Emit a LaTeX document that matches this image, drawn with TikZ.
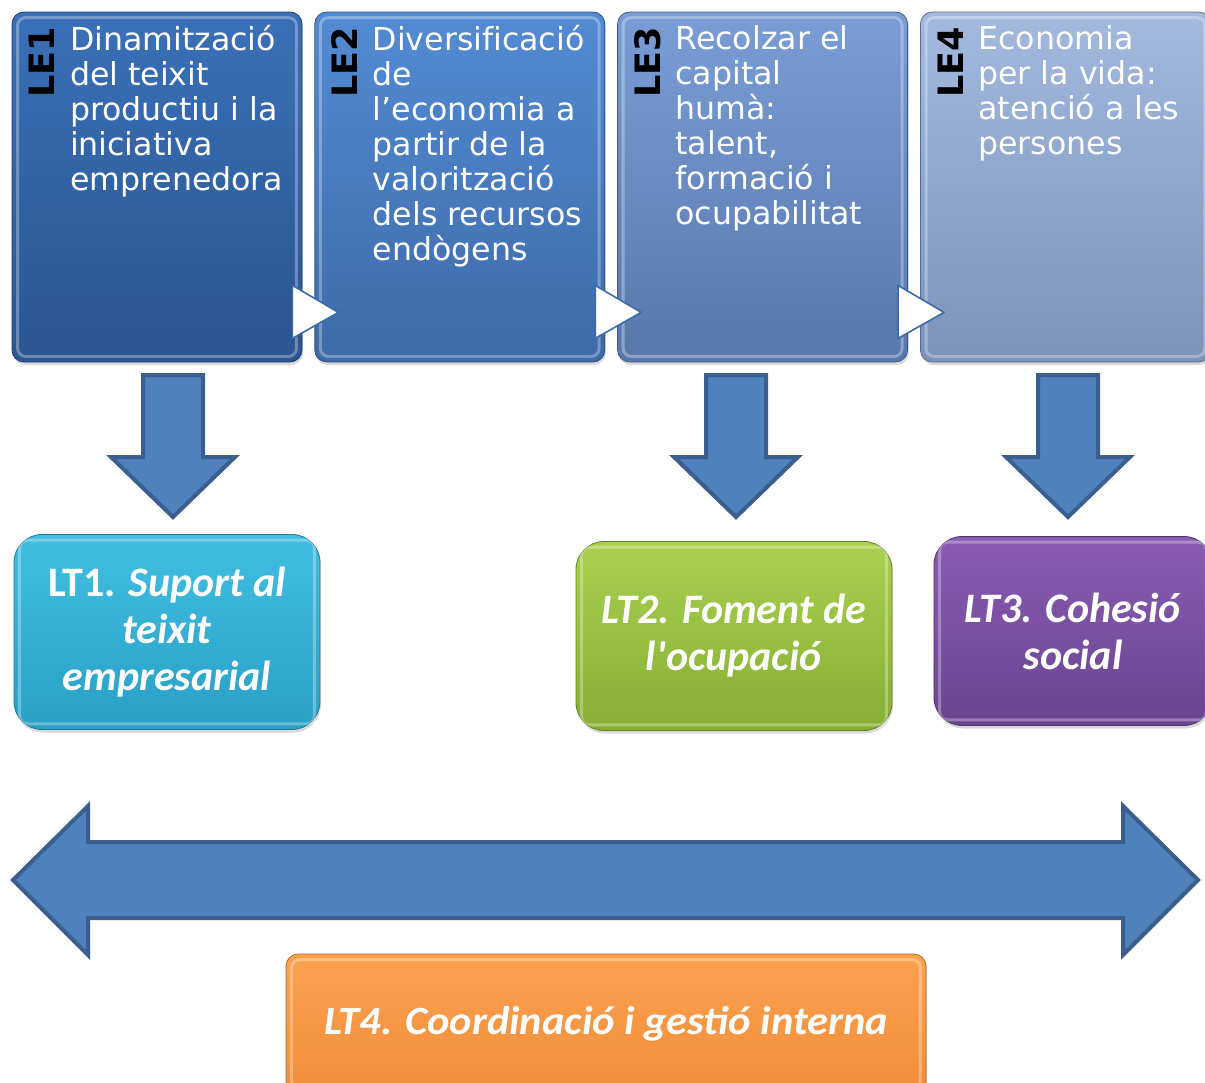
\documentclass[tikz,border=0pt]{standalone}
\usepackage{fontspec}
\usepackage{graphicx}
\newfontfamily\verd[Ligatures=NoCommon]{DejaVu Sans}
\newfontfamily\cali{Carlito}
\usepackage{tikz}
\usetikzlibrary{calc,positioning,shadows}

\definecolor{le1top}{HTML}{3A70B8}\definecolor{le1bot}{HTML}{2A5590}
\definecolor{le2top}{HTML}{538BD4}\definecolor{le2bot}{HTML}{3D6AA8}
\definecolor{le3top}{HTML}{7A9DD6}\definecolor{le3bot}{HTML}{5878AB}
\definecolor{le4top}{HTML}{A3B9DE}\definecolor{le4bot}{HTML}{7B92BA}
\definecolor{lt1top}{HTML}{40BFE2}\definecolor{lt1bot}{HTML}{2A9FC6}
\definecolor{lt2top}{HTML}{A9D04E}\definecolor{lt2bot}{HTML}{86AE34}
\definecolor{lt3top}{HTML}{8A5CB3}\definecolor{lt3bot}{HTML}{6A4490}
\definecolor{lt4top}{HTML}{FBA24F}\definecolor{lt4bot}{HTML}{F28D3A}
\definecolor{arrfill}{HTML}{4F81BD}\definecolor{arrline}{HTML}{3A5F8F}

\begin{document}
\begin{tikzpicture}[x=0.5pt, y=-0.5pt,
    lebox/.style={top color=#1top, bottom color=#1bot, draw=#1bot!75!black,
      rounded corners=6pt, minimum width=145pt, minimum height=175pt, inner sep=0pt,
      drop shadow={opacity=0.3, shadow xshift=0.5pt, shadow yshift=-1.5pt}},
    ltbox/.style={top color=#1top, bottom color=#1bot, draw=#1bot!75!black,
      rounded corners=14pt, inner sep=0pt, text=white, align=center,
      font=\cali\bfseries\fontsize{21}{23.5}\selectfont,
      drop shadow={opacity=0.3, shadow xshift=0.5pt, shadow yshift=-1.5pt}},
    bevel/.style={draw=white, opacity=0.3, line width=1.5pt, rounded corners=4pt},
    letext/.style={anchor=north west, inner sep=0pt, align=left, text=white,
      font=\verd\fontsize{15.8}{17.5}\selectfont},
    letag/.style={anchor=base east, inner sep=0pt, rotate=90,
      font=\verd\bfseries\fontsize{17.5}{17.5}\selectfont},
    tri/.style={fill=white, draw=le2bot, line width=0.8pt, line join=round},
    blockarr/.style={fill=arrfill, draw=arrline, line width=2pt},
    downarr/.pic={\draw[blockarr] (-30,0) -- (30,0) -- (30,82) -- (62,82) -- (0,142)
      -- (-62,82) -- (-30,82) -- cycle;}]
\useasboundingbox (0,0) rectangle (1205,1082);
\clip (0,0) rectangle (1205,1082);

% top row
\node[lebox=le1] (le1) at (157,187) {};
\node[lebox=le2, right=6pt of le1] (le2) {};
\node[lebox=le3, right=6pt of le2] (le3) {};
\node[lebox=le4, right=6pt of le3] (le4) {};
\foreach \n in {le1,le2,le3,le4}
  \draw[bevel] ($(\n.north west)+(6,6)$) rectangle ($(\n.south east)+(-6,-6)$);
\foreach \n in {le1,le2,le3}
  \draw[tri] ($(\n.south east)+(-10,-77)$) -- ($(\n.south east)+(36,-50)$)
    -- ($(\n.south east)+(-10,-24)$) -- cycle;

\node[letag] (le1n) at ($(le1.north west)+(43,15)$) {LE1};
\node[letag] (le2n) at ($(le2.north west)+(43,15)$) {LE2};
\node[letag] (le3n) at ($(le3.north west)+(43,15)$) {LE3};
\node[letag] (le4n) at ($(le4.north west)+(43,15)$) {LE4};

\node[letext] (le1t) at ($(le1.north west)+(58,13)$)
  {Dinamització\\del teixit\\productiu i la\\iniciativa\\emprenedora};
\node[letext] (le2t) at ($(le2.north west)+(58,13)$)
  {Diversificació\\de\\l’economia a\\partir de la\\valorització\\dels recursos\\endògens};
\node[letext] (le3t) at ($(le3.north west)+(58,13)$)
  {Recolzar el\\capital\\humà:\\talent,\\formació i\\ocupabilitat};
\node[letext] (le4t) at ($(le4.north west)+(58,13)$)
  {Economia\\per la vida:\\atenció a les\\persones};

% middle row
\node[ltbox=lt1, minimum width=153pt, minimum height=97.5pt] (lt1) at (167,632)
  {LT1. \textit{Suport al}\\\textit{teixit}\\\textit{empresarial}};
\node[ltbox=lt2, minimum width=158pt, minimum height=94.5pt] (lt2) at (734,636)
  {\textit{LT2. Foment de}\\\textit{l'ocupació}};
\node[ltbox=lt3, minimum width=139pt, minimum height=94.5pt] (lt3) at (1073,631)
  {\textit{LT3. Cohesió}\\\textit{social}};
\foreach \n in {lt1,lt2,lt3}
  \draw[bevel] ($(\n.north west)+(6,6)$) rectangle ($(\n.south east)+(-6,-6)$);

\coordinate (atop) at (0,375);
\pic at ($(lt1.north |- atop)+(6,0)$) {downarr};
\pic at ($(lt2.north |- atop)+(2,0)$) {downarr};
\pic at ($(lt3.north |- atop)+(-5,0)$) {downarr};

% bottom
\coordinate (ltip) at (13,880);
\coordinate (rtip) at (1198,880);
\draw[blockarr] (ltip) -- (88,806) -- (88,842) -- (1123,842) -- (1123,806) -- (rtip)
  -- (1123,955) -- (1123,918) -- (88,918) -- (88,955) -- cycle;

\node[ltbox=lt4, rounded corners=6pt, minimum width=320pt, minimum height=70pt] (lt4) at (606,1024)
  {\scalebox{1.06}[1]{\fontsize{20}{22}\selectfont\textit{LT4. Coordinació i gestió interna}}};
\draw[bevel] ($(lt4.north west)+(6,6)$) rectangle ($(lt4.south east)+(-6,-6)$);
\end{tikzpicture}
\end{document}
